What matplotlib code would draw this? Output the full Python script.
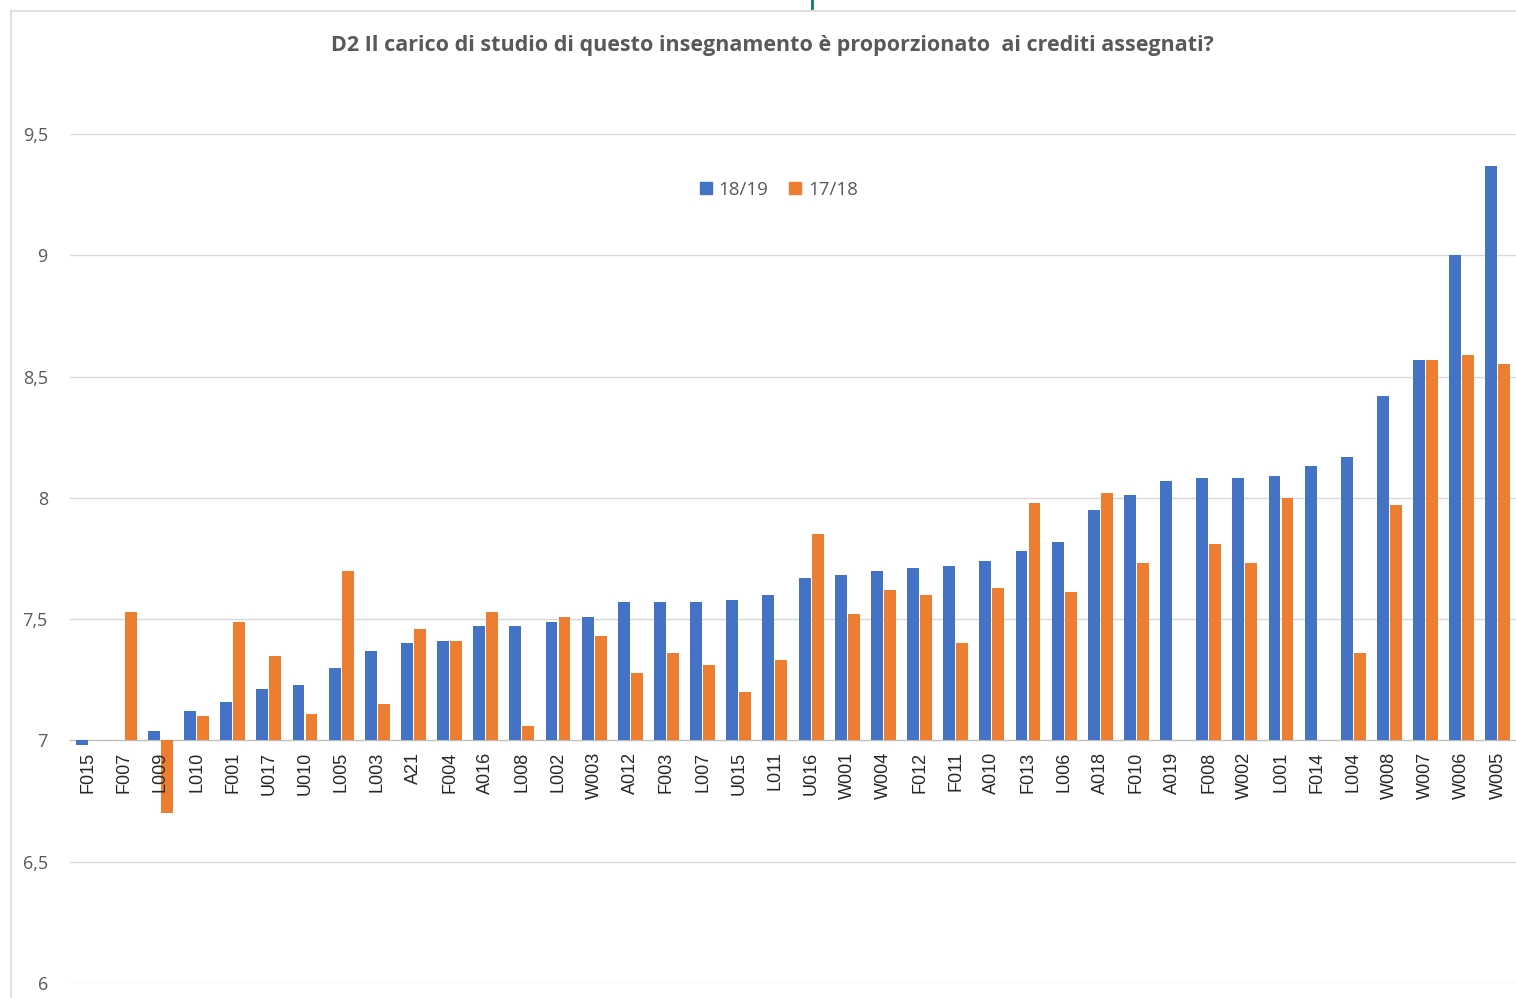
import matplotlib.pyplot as plt
import numpy as np
from matplotlib.lines import Line2D
from matplotlib.ticker import FuncFormatter

# Corsi (ordinati per valore 18/19)
categories = ['F015', 'F007', 'L009', 'L010', 'F001', 'U017', 'U010', 'L005', 'L003', 'A21',
              'F004', 'A016', 'L008', 'L002', 'W003', 'A012', 'F003', 'L007', 'U015', 'L011',
              'U016', 'W001', 'W004', 'F012', 'F011', 'A010', 'F013', 'L006', 'A018', 'F010',
              'A019', 'F008', 'W002', 'L001', 'F014', 'L004', 'W008', 'W007', 'W006', 'W005']

# medie 18/19 (None = dato mancante)
val_1819 = [6.98, None, 7.04, 7.12, 7.16, 7.21, 7.23, 7.30, 7.37, 7.40,
            7.41, 7.47, 7.47, 7.49, 7.51, 7.57, 7.57, 7.57, 7.58, 7.60,
            7.67, 7.68, 7.70, 7.71, 7.72, 7.74, 7.78, 7.82, 7.95, 8.01,
            8.07, 8.08, 8.08, 8.09, 8.13, 8.17, 8.42, 8.57, 9.00, 9.37]

# medie 17/18
val_1718 = [None, 7.53, 6.70, 7.10, 7.49, 7.35, 7.11, 7.70, 7.15, 7.46,
            7.41, 7.53, 7.06, 7.51, 7.43, 7.28, 7.36, 7.31, 7.20, 7.33,
            7.85, 7.52, 7.62, 7.60, 7.40, 7.63, 7.98, 7.61, 8.02, 7.73,
            None, 7.81, 7.73, 8.00, None, 7.36, 7.97, 8.57, 8.59, 8.55]

series_labels = ['18/19', '17/18']
blue = '#4472C4'
orange = '#ED7D31'
grey_txt = '#595959'
base = 7

v1 = np.array([np.nan if v is None else v for v in val_1819])
v2 = np.array([np.nan if v is None else v for v in val_1718])
x = np.arange(len(categories))

fig = plt.figure(figsize=(15.16, 9.98), dpi=100)
ax = fig.add_axes([70 / 1516, 15 / 998, 1446 / 1516, 849 / 998])

w = 0.33
ax.bar(x - 0.18, v1 - base, bottom=base, width=w, color=blue, zorder=3)
ax.bar(x + 0.18, v2 - base, bottom=base, width=w, color=orange, zorder=3)

ax.set_xlim(-0.5, len(categories) - 0.5)
ax.set_ylim(6, 9.5)
ax.set_yticks(np.arange(6, 9.51, 0.5))
ax.yaxis.set_major_formatter(FuncFormatter(lambda v, p: f'{v:g}'.replace('.', ',')))
ax.grid(axis='y', color='#d9d9d9', lw=1, zorder=0)

for s in ['top', 'right', 'left']:
    ax.spines[s].set_visible(False)
ax.spines['bottom'].set_position(('data', base))
ax.spines['bottom'].set_color('#bfbfbf')
ax.xaxis.set_zorder(4)

ax.set_xticks(x)
ax.set_xticklabels(categories, rotation=90, fontsize=13, family='Liberation Sans', color='#262626')
ax.tick_params(axis='x', length=0, pad=8)
ax.tick_params(axis='y', length=0, pad=16, labelsize=13, labelcolor=grey_txt)
for t in ax.get_yticklabels():
    t.set_family('Open Sans')

fig.text(772 / 1516, 1 - 45 / 998,
         'D2 Il carico di studio di questo insegnamento è proporzionato  ai crediti assegnati?',
         ha='center', va='center', fontsize=15.5, fontweight='bold', color=grey_txt, family='Open Sans')

handles = [Line2D([], [], marker='s', ls='', color=blue, markersize=8),
           Line2D([], [], marker='s', ls='', color=orange, markersize=8)]
fig.legend(handles, series_labels, loc='center', bbox_to_anchor=(778 / 1516, 1 - 190 / 998),
           ncol=2, frameon=False, handlelength=0.8, handletextpad=0.3, columnspacing=1.0,
           prop={'family': 'Open Sans', 'size': 13.5}, labelcolor=grey_txt)

# cornice del grafico
fig.add_artist(Line2D([11 / 1516, 1], [1 - 11 / 998, 1 - 11 / 998], color='#d9d9d9', lw=1.2))
fig.add_artist(Line2D([11 / 1516, 11 / 1516], [0, 1 - 11 / 998], color='#d9d9d9', lw=1.2))
fig.add_artist(Line2D([812 / 1516, 812 / 1516], [1 - 8 / 998, 1], color='#0b7a66', lw=2))

fig.savefig('out.png', dpi=100)
